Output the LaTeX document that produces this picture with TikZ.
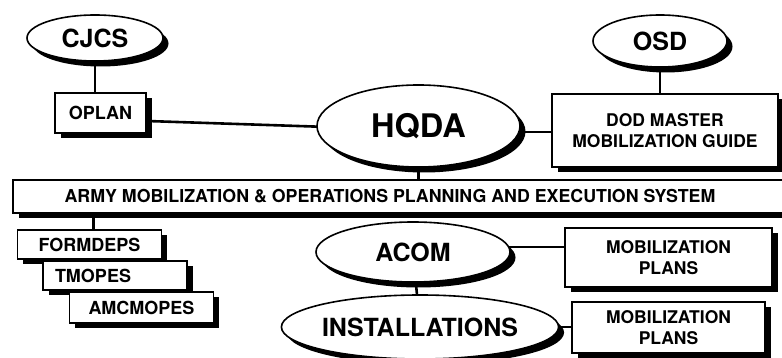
\documentclass[tikz,border=0pt]{standalone}
\usepackage{fontspec}
\setmainfont{TeX Gyre Heros}
\usetikzlibrary{shapes.geometric, shadows, positioning, backgrounds}

\tikzset{
  shade blk/.style={drop shadow={shadow xshift=5.5pt, shadow yshift=-5.5pt, fill=black, opacity=1}},
  org/.style={ellipse, draw, line width=1.6pt, fill=white, inner sep=0pt, shade blk,
    font=\bfseries\fontsize{25}{28}\selectfont},
  doc/.style={rectangle, draw, line width=1.6pt, fill=white, inner sep=0pt, align=center, shade blk,
    font=\bfseries\fontsize{17.5}{20.5}\selectfont},
  depbox/.style={doc, text width=120pt, inner xsep=12pt, minimum height=29pt},
  link/.style={line width=2.6pt},
}

\begin{document}
\begin{tikzpicture}[x=1pt, y=1pt, node distance=80pt, on grid, auto]
        \useasboundingbox (0,0) rectangle (782,358);
        % Define the nodes
        \node[org, minimum width=203pt, minimum height=82pt, font=\bfseries\fontsize{32.5}{36}\selectfont] (hqda) at (418.5,232) {HQDA};
        \node[org, minimum width=136pt, minimum height=46pt] (cjcs) [above left=88pt and 323.5pt of hqda] {CJCS};
        \node[doc, minimum width=91pt, minimum height=40pt, font=\bfseries\fontsize{18}{20}\selectfont] (oplan) [below right=75pt and 5.5pt of cjcs] {OPLAN};
        \node[org, minimum width=134pt, minimum height=52pt] (osd) [above right=85pt and 241.5pt of hqda] {OSD};
        \node[doc, minimum width=226pt, minimum height=73pt] (dod) [below right=89.5pt and 5pt of osd] {DOD MASTER\\MOBILIZATION GUIDE};
        \node[doc, minimum width=800pt, minimum height=33pt] (bar) at (413,161.5) {};
        \node[font=\bfseries\fontsize{17.8}{20}\selectfont] (amopes) [below left=70.5pt and 28.5pt of hqda] {ARMY MOBILIZATION \& OPERATIONS PLANNING AND EXECUTION SYSTEM};
        \node[depbox, font=\bfseries\fontsize{18}{20}\selectfont] (formdeps) [below left=48pt and 323.5pt of bar] {FORMDEPS};
        \node[depbox, align=left, font=\bfseries\fontsize{18}{20}\selectfont] (tmopes) [below right=31pt and 25.5pt of formdeps] {TMOPES};
        \node[depbox, minimum height=31pt, font=\bfseries\fontsize{18}{20}\selectfont] (amcmopes) [below right=32pt and 26.5pt of tmopes] {AMCMOPES};
        \node[org, minimum width=194pt, minimum height=60pt] (acom) [below left=126pt and 5.5pt of hqda] {ACOM};
        \node[org, minimum width=276pt, minimum height=64pt] (installations) [below right=75pt and 7pt of acom] {INSTALLATIONS};
        \node[doc, minimum width=207pt, minimum height=59pt] (plansa) [below right=5.5pt and 255.5pt of acom] {MOBILIZATION\\PLANS};
        \node[doc, minimum width=193pt, minimum height=51pt] (plansb) [below=70pt of plansa] {MOBILIZATION\\PLANS};
        % Define the links
        \begin{scope}[on background layer]
        \path[link]
        (cjcs) edge (cjcs |- oplan.north)
        ([yshift=-8pt]oplan.east) edge ([yshift=-4pt]hqda.center)
        ([yshift=-6pt]hqda.center) edge ([yshift=-6pt]hqda.center -| dod.west)
        (osd) edge (osd |- dod.north)
        (hqda) edge (hqda |- bar.north)
        ([xshift=4pt]formdeps.center) edge ([xshift=4pt]formdeps.center |- bar.south)
        (acom.center) edge (installations.center)
        ([yshift=5pt]acom.center) edge ([yshift=5pt]acom.center -| plansa.west)
        (installations.center) edge (installations.center -| plansb.west);
        \end{scope}
    \end{tikzpicture}
\end{document}
